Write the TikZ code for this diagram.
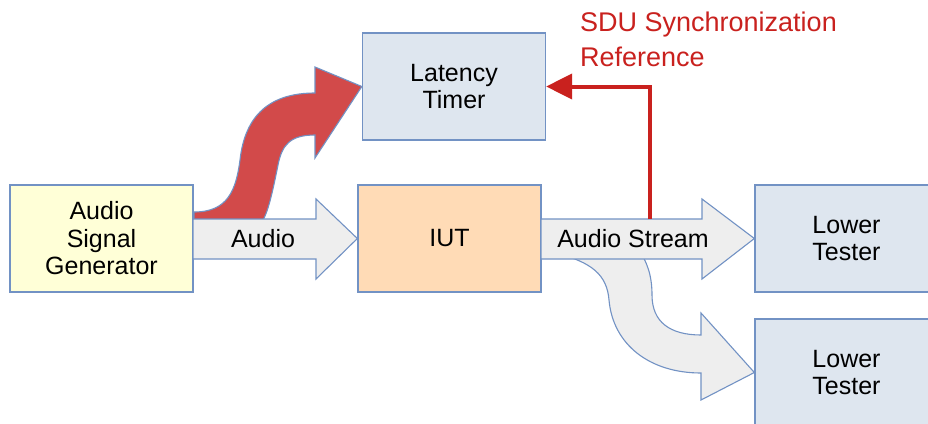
\documentclass[tikz,border=0pt]{standalone}
\usepackage{fontspec}
\setmainfont{Liberation Sans}
\usetikzlibrary{arrows.meta}
\definecolor{bord}{HTML}{7292C4}
\definecolor{lblue}{HTML}{DEE6EF}
\definecolor{genfill}{HTML}{FFFFD7}
\definecolor{iutfill}{HTML}{FFDBB6}
\definecolor{arrowgrey}{HTML}{EEEEEE}
\definecolor{redfill}{HTML}{D24A4A}
\definecolor{syncred}{HTML}{C9211E}
\begin{document}
\begin{tikzpicture}[x=1pt,y=-1pt,
  box/.style={draw=bord, line width=1.3pt, minimum width=183pt, minimum height=107pt,
    inner sep=0pt, align=center, text=black, font=\fontsize{25}{27.5}\selectfont},
  fatarrow/.style={draw=bord, line width=1.1pt, line join=miter, fill=arrowgrey},
  redarrow/.style={draw=bord, line width=1.1pt, line join=miter, fill=redfill},
  lbl/.style={font=\fontsize{25}{27.5}\selectfont, inner sep=0pt, text=black},
  synclbl/.style={font=\fontsize{27}{35}\selectfont, inner sep=0pt, text=syncred, align=left},
  sync/.style={draw=syncred, line width=4pt, -{Triangle[length=26pt,width=25pt]}}]
\useasboundingbox (0,0) rectangle (928,423);
\clip (0,0) rectangle (928,423);
\fill[white] (0,0) rectangle (928,423);
% boxes
\node[box, fill=genfill] (gen) at (101.5,238.5) {Audio\\Signal\\Generator};
\node[box, fill=lblue] (lat) at (454,86.5) {Latency\\Timer};
\node[box, fill=iutfill] (iut) at (449.5,238.5) {IUT};
\node[box, fill=lblue] (lt1) at (846.5,238.5) {Lower\\Tester};
\node[box, fill=lblue] (lt2) at (846.5,372.5) {Lower\\Tester};
% red curved arrow to latency timer
\filldraw[redarrow] (194,222) -- (194,212) .. controls (228,212) and (236,190) .. (240,160)
  .. controls (245,115) and (270,93) .. (315,93) -- (315,67) -- (lat.west) -- (315,158) -- (315,135)
  .. controls (290,135) and (282,145) .. (278,165) .. controls (272,195) and (268,212) .. (262,222) -- cycle;
% audio arrow
\filldraw[fatarrow] (193,219) -- (316,219) -- (316,199) -- (iut.west) -- (316,279) -- (316,259) -- (193,259) -- cycle;
% curved grey arrow to second lower tester
\filldraw[fatarrow] (555,253) .. controls (592,262) and (607,275) .. (609,300)
  .. controls (613,345) and (650,373) .. (701,373) -- (701,400) -- (lt2.west) -- (701,313) -- (701,335)
  .. controls (670,335) and (652,322) .. (652,295) .. controls (652,275) and (647,262) .. (638,248) -- cycle;
% audio stream arrow
\filldraw[fatarrow] (541,219) -- (702,219) -- (702,199) -- (lt1.west) -- (702,279) -- (702,259) -- (541,259) -- cycle;
% sync reference connector
\coordinate (sref) at (650,219);
\draw[sync] (sref) |- (lat.east);
% labels
\node[lbl] (audiolbl) at (263,239) {Audio};
\node[lbl] (streamlbl) at (633,239) {Audio Stream};
\node[synclbl, anchor=north west] (synctxt) at (580,12) {SDU Synchronization\\Reference};
\end{tikzpicture}
\end{document}
